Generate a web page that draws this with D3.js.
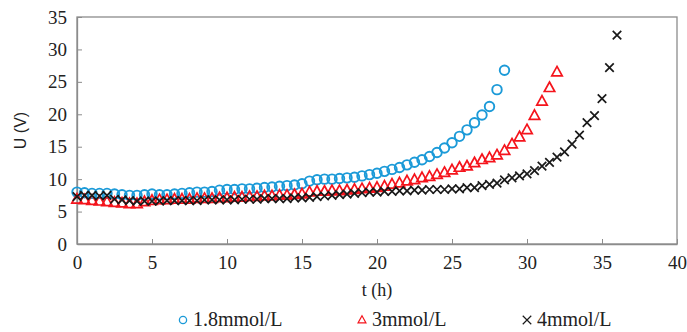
<!DOCTYPE html>
<html>
<head>
<meta charset="utf-8">
<script src="https://cdn.jsdelivr.net/npm/d3@7"></script>
<style>
  body { margin: 0; background: #fff; }
  text { font-family: "Liberation Serif", "Times New Roman", serif; }
</style>
</head>
<body>
<div id="plot"></div>
<script>
// Sample data (time step 0.5 h)
const step = 0.5;
const u18 = [8.0, 7.9, 7.8, 7.8, 7.8, 7.7, 7.6, 7.5, 7.5, 7.6, 7.7, 7.6, 7.6, 7.7, 7.8, 7.9, 8.0, 8.0, 8.1, 8.3,
  8.4, 8.4, 8.5, 8.5, 8.6, 8.7, 8.8, 8.9, 9.0, 9.1, 9.3, 9.7, 9.9, 10.0, 10.0, 10.1, 10.2, 10.3, 10.5, 10.7,
  10.9, 11.2, 11.5, 11.8, 12.2, 12.6, 13.0, 13.5, 14.1, 14.8, 15.6, 16.6, 17.6, 18.7, 19.9, 21.2, 23.8, 26.8];
const u3 = [6.9, 6.8, 6.7, 6.6, 6.5, 6.4, 6.3, 6.2, 6.2, 6.5, 6.7, 6.8, 6.8, 6.9, 6.9, 6.9, 7.0, 7.0, 7.0, 7.1,
  7.1, 7.2, 7.2, 7.3, 7.3, 7.4, 7.4, 7.5, 7.5, 7.6, 7.7, 8.0, 8.1, 8.1, 8.2, 8.2, 8.3, 8.4, 8.5, 8.6,
  8.7, 8.9, 9.2, 9.4, 9.7, 9.9, 10.2, 10.4, 10.7, 11.0, 11.4, 11.8, 12.0, 12.5, 13.0, 13.3, 13.7, 14.4, 15.4, 16.5,
  17.6, 19.8, 22.0, 24.1, 26.5];
const u4 = [7.3, 7.5, 7.5, 7.4, 7.5, 6.9, 6.8, 6.7, 6.6, 6.6, 6.6, 6.6, 6.7, 6.7, 6.7, 6.7, 6.7, 6.8, 6.8, 6.8,
  6.8, 6.8, 6.9, 6.9, 6.9, 7.0, 7.0, 7.0, 7.0, 7.1, 7.1, 7.2, 7.3, 7.4, 7.5, 7.6, 7.7, 7.8, 7.9, 8.0,
  8.0, 8.1, 8.1, 8.2, 8.2, 8.3, 8.3, 8.4, 8.4, 8.4, 8.5, 8.5, 8.7, 8.7, 9.0, 9.2, 9.4, 9.9, 10.2, 10.5,
  10.8, 11.3, 12.0, 12.6, 13.4, 14.2, 15.4, 16.8, 18.7, 19.8, 22.4, 27.2, 32.2];
const xTicks = [0, 5, 10, 15, 20, 25, 30, 35, 40];
const yTicks = [0, 5, 10, 15, 20, 25, 30, 35];

const series = [
  { name: "1.8mmol/L", values: u18, shape: "circle", color: "#1b9ad8" },
  { name: "3mmol/L", values: u3, shape: "triangle", color: "#f5141c" },
  { name: "4mmol/L", values: u4, shape: "cross", color: "#1a1a1a" }
];

const W = 687, H = 332;
const margin = { top: 17, left: 77 };
const width = 600;
const height = 227;
const serif = "'Liberation Serif', 'Times New Roman', serif";

const svg = d3.select("#plot")
  .append("svg")
  .attr("width", W)
  .attr("height", H);

const g = svg.append("g")
  .attr("transform", `translate(${margin.left}, ${margin.top})`);

const x = d3.scaleLinear().domain([0, 40]).range([0, width]);
const y = d3.scaleLinear().domain([0, 35]).range([height, 0]);

// Frame
g.append("rect")
  .attr("width", width)
  .attr("height", height)
  .attr("fill", "none")
  .attr("stroke", "#8c8c8c")
  .attr("stroke-width", 1.3);

// Axes with inward ticks
const xAxis = g.append("g")
  .attr("transform", `translate(0, ${height})`)
  .call(d3.axisBottom(x).tickValues(xTicks).tickSizeInner(-5).tickSizeOuter(0).tickPadding(12));
const yAxis = g.append("g")
  .call(d3.axisLeft(y).tickValues(yTicks).tickSizeInner(-5).tickSizeOuter(0).tickPadding(10));

[xAxis, yAxis].forEach(a => {
  a.attr("font-family", serif).attr("font-size", 19);
  a.select(".domain").attr("stroke", "#8c8c8c").attr("stroke-width", 1.3);
  a.selectAll(".tick line").attr("stroke", "#8c8c8c");
  a.selectAll(".tick text").attr("fill", "#222");
});

// Axis titles
g.append("text")
  .attr("x", width / 2)
  .attr("y", height + 52)
  .attr("text-anchor", "middle")
  .attr("font-family", serif)
  .attr("font-size", 18)
  .attr("fill", "#222")
  .text("t (h)");

g.append("text")
  .attr("transform", `translate(${-51}, ${height / 2}) rotate(-90)`)
  .attr("text-anchor", "middle")
  .style("font-family", "'Liberation Sans', Arial, sans-serif")
  .style("font-size", "16px")
  .attr("fill", "#222")
  .text("U (V)");

// Marker drawing
function drawMarker(sel, shape, color, s, sw) {
  if (shape === "circle") {
    sel.append("circle").attr("r", s * 0.95)
      .attr("fill", "none").attr("stroke", color).attr("stroke-width", sw);
  } else if (shape === "triangle") {
    const h = s * 1.9;
    sel.append("path")
      .attr("d", `M0,${-h * 0.6}L${h * 0.55},${h * 0.4}L${-h * 0.55},${h * 0.4}Z`)
      .attr("fill", "none").attr("stroke", color).attr("stroke-width", sw * 0.9);
  } else {
    const c = s * 0.85;
    sel.append("path")
      .attr("d", `M${-c},${-c}L${c},${c}M${-c},${c}L${c},${-c}`)
      .attr("fill", "none").attr("stroke", color).attr("stroke-width", sw * 0.9);
  }
}

// Draw points
series.forEach(sr => {
  const pts = g.append("g").selectAll("g")
    .data(sr.values.map((v, i) => ({ t: i * step, u: v })))
    .enter()
    .append("g")
    .attr("transform", d => `translate(${x(d.t)}, ${y(d.u)})`);
  drawMarker(pts, sr.shape, sr.color, 5, 1.9);
});

// Legend
const legendX = [183, 362, 527];
series.forEach((sr, i) => {
  const lg = svg.append("g").attr("transform", `translate(${legendX[i]}, 320)`);
  drawMarker(lg, sr.shape, sr.color, i === 2 ? 5 : 3.8, 1.3);
  lg.append("text")
    .attr("x", 10)
    .attr("y", 6)
    .attr("font-family", serif)
    .attr("font-size", 20)
    .attr("fill", "#222")
    .text(sr.name);
});
</script>
</body>
</html>
